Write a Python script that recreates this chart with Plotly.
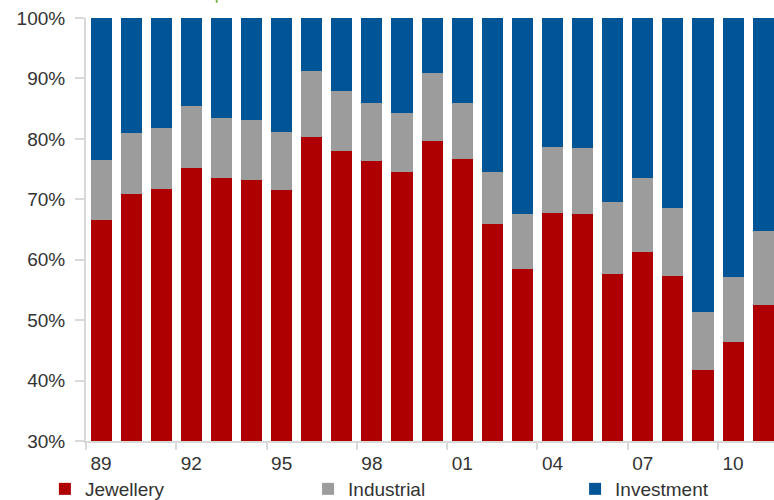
import plotly.graph_objects as go

# Gold demand mix by year (% share of total)
years = ["89", "90", "91", "92", "93", "94", "95", "96", "97", "98", "99", "00",
         "01", "02", "03", "04", "05", "06", "07", "08", "09", "10", "11"]
jewellery = [66.6, 70.9, 71.7, 75.2, 73.5, 73.2, 71.5, 80.3, 78.0, 76.3, 74.5, 79.6,
             76.7, 65.9, 58.4, 67.7, 67.5, 57.6, 61.3, 57.3, 41.7, 46.4, 52.5]
industrial = [9.9, 10.1, 10.1, 10.2, 9.9, 9.9, 9.6, 10.9, 9.9, 9.6, 9.8, 11.3,
              9.2, 8.6, 9.1, 10.9, 11.0, 11.9, 12.2, 11.2, 9.6, 10.7, 12.2]
investment = [round(100 - j - i, 1) for j, i in zip(jewellery, industrial)]

tick_years = ["89", "92", "95", "98", "01", "04", "07", "10"]
y_ticks = [30, 40, 50, 60, 70, 80, 90, 100]

x = list(range(len(years)))
font = dict(family="Liberation Sans, Arial, sans-serif", size=19, color="#333333")

series = [("Jewellery", jewellery, "#AE0000", "legend", 0.058),
          ("Industrial", industrial, "#9C9C9C", "legend2", 0.398),
          ("Investment", investment, "#005596", "legend3", 0.743)]

fig = go.Figure()
legends = {}
for name, vals, color, leg, lx in series:
    fig.add_trace(go.Bar(x=x, y=vals, name=name, marker=dict(color=color, line_width=0),
                         width=0.7, legend=leg))
    # one legend box per series so each entry sits in its own column
    legends[leg] = dict(orientation="h", x=lx, xanchor="left", xref="container",
                        y=0.022, yanchor="middle", yref="container",
                        font=font, bgcolor="rgba(0,0,0,0)")

fig.update_layout(
    barmode="stack",
    width=774, height=500,
    margin=dict(l=86, r=0, t=18, b=59, autoexpand=False),
    paper_bgcolor="white", plot_bgcolor="white",
    font=font,
    showlegend=True,
    **legends,
    # small green accent stroke above the plot area
    shapes=[dict(type="line", xref="paper", yref="paper", x0=0.19, x1=0.19,
                 y0=1.036, y1=1.045, line=dict(color="#7AB648", width=2))],
    xaxis=dict(range=[-0.5, 22.36], showgrid=False, zeroline=False,
               showline=True, linecolor="#D9D9D9", linewidth=2,
               tickmode="array", tickvals=[years.index(t) for t in tick_years],
               ticktext=tick_years, ticks="", ticklabelstandoff=4,
               minor=dict(tickmode="array",
                          tickvals=[years.index(t) - 0.5 for t in tick_years],
                          ticks="outside", ticklen=7, tickwidth=2, tickcolor="#D9D9D9"),
               tickfont=font),
    yaxis=dict(range=[30, 100], showgrid=False, zeroline=False,
               showline=True, linecolor="#D9D9D9", linewidth=2,
               tickmode="array", tickvals=y_ticks,
               ticktext=[f"{v}%" for v in y_ticks],
               ticks="outside", ticklen=9, tickwidth=2, tickcolor="#D9D9D9",
               ticklabelstandoff=6, tickfont=font),
)

fig.write_html("out.html")
